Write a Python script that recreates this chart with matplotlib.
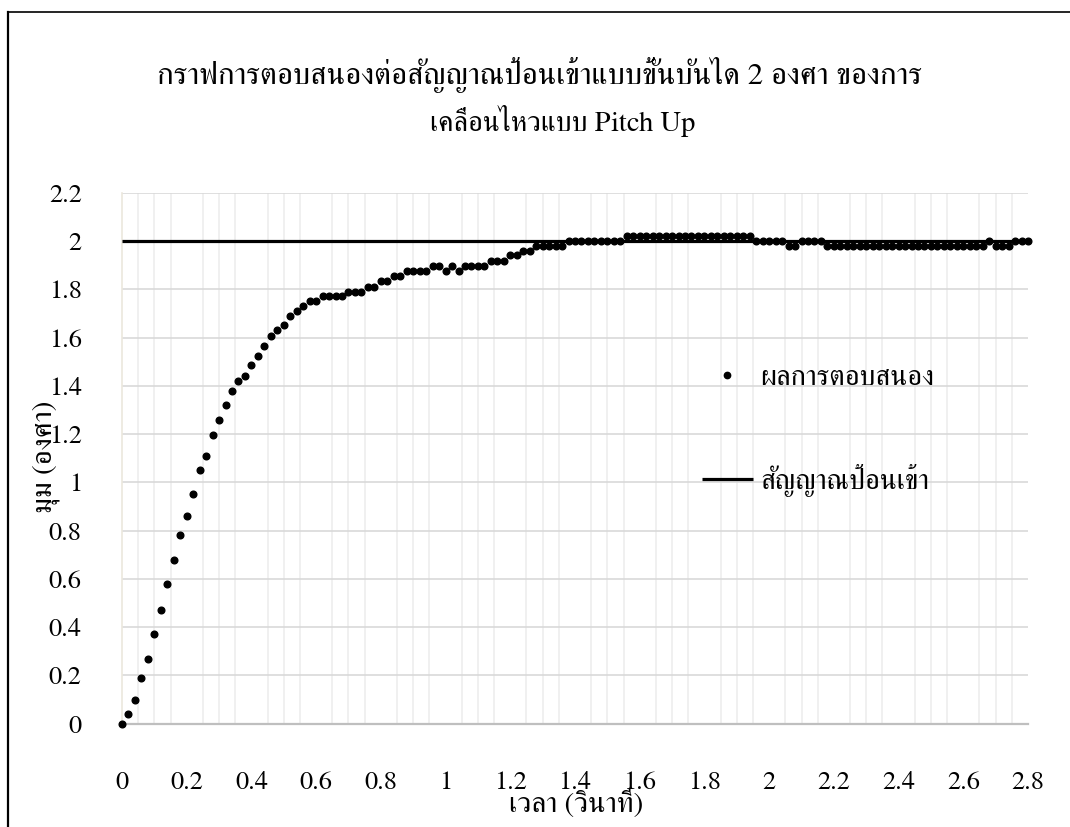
import matplotlib
matplotlib.use("Agg")
import matplotlib.pyplot as plt
from matplotlib.ticker import MultipleLocator, FuncFormatter
from matplotlib.lines import Line2D

plt.rcParams['font.family'] = ['FreeSerif', 'Liberation Serif', 'DejaVu Sans']

# ---------------- data ----------------
title_line1 = "กราฟการตอบสนองต่อสัญญาณป้อนเข้าแบบขั้นบันได 2 องศา ของการ"
title_line2 = "เคลื่อนไหวแบบ Pitch Up"
x_label = "เวลา (วินาที)"
y_label = "มุม (องศา)"
series_response = "ผลการตอบสนอง"
series_input = "สัญญาณป้อนเข้า"

time_s = [
    0.00, 0.02, 0.04, 0.06, 0.08, 0.10, 0.12, 0.14, 0.16, 0.18,
    0.20, 0.22, 0.24, 0.26, 0.28, 0.30, 0.32, 0.34, 0.36, 0.38,
    0.40, 0.42, 0.44, 0.46, 0.48, 0.50, 0.52, 0.54, 0.56, 0.58,
    0.60, 0.62, 0.64, 0.66, 0.68, 0.70, 0.72, 0.74, 0.76, 0.78,
    0.80, 0.82, 0.84, 0.86, 0.88, 0.90, 0.92, 0.94, 0.96, 0.98,
    1.00, 1.02, 1.04, 1.06, 1.08, 1.10, 1.12, 1.14, 1.16, 1.18,
    1.20, 1.22, 1.24, 1.26, 1.28, 1.30, 1.32, 1.34, 1.36, 1.38,
    1.40, 1.42, 1.44, 1.46, 1.48, 1.50, 1.52, 1.54, 1.56, 1.58,
    1.60, 1.62, 1.64, 1.66, 1.68, 1.70, 1.72, 1.74, 1.76, 1.78,
    1.80, 1.82, 1.84, 1.86, 1.88, 1.90, 1.92, 1.94, 1.96, 1.98,
    2.00, 2.02, 2.04, 2.06, 2.08, 2.10, 2.12, 2.14, 2.16, 2.18,
    2.20, 2.22, 2.24, 2.26, 2.28, 2.30, 2.32, 2.34, 2.36, 2.38,
    2.40, 2.42, 2.44, 2.46, 2.48, 2.50, 2.52, 2.54, 2.56, 2.58,
    2.60, 2.62, 2.64, 2.66, 2.68, 2.70, 2.72, 2.74, 2.76, 2.78,
    2.80,
]
response_deg = [
    0.00, 0.04, 0.10, 0.19, 0.27, 0.37, 0.47, 0.58, 0.68, 0.78,
    0.86, 0.95, 1.05, 1.11, 1.195, 1.26, 1.32, 1.38, 1.42, 1.44,
    1.485, 1.525, 1.565, 1.605, 1.63, 1.65, 1.69, 1.71, 1.73, 1.75,
    1.75, 1.77, 1.77, 1.77, 1.77, 1.79, 1.79, 1.79, 1.81, 1.81,
    1.835, 1.835, 1.855, 1.855, 1.875, 1.875, 1.875, 1.875, 1.895, 1.895,
    1.875, 1.895, 1.875, 1.895, 1.895, 1.895, 1.895, 1.915, 1.915, 1.915,
    1.94, 1.94, 1.96, 1.96, 1.98, 1.98, 1.98, 1.98, 1.98, 2.00,
    2.00, 2.00, 2.00, 2.00, 2.00, 2.00, 2.00, 2.00, 2.02, 2.02,
    2.02, 2.02, 2.02, 2.02, 2.02, 2.02, 2.02, 2.02, 2.02, 2.02,
    2.02, 2.02, 2.02, 2.02, 2.02, 2.02, 2.02, 2.02, 2.00, 2.00,
    2.00, 2.00, 2.00, 1.98, 1.98, 2.00, 2.00, 2.00, 2.00, 1.98,
    1.98, 1.98, 1.98, 1.98, 1.98, 1.98, 1.98, 1.98, 1.98, 1.98,
    1.98, 1.98, 1.98, 1.98, 1.98, 1.98, 1.98, 1.98, 1.98, 1.98,
    1.98, 1.98, 1.98, 1.98, 2.00, 1.98, 1.98, 1.98, 2.00, 2.00,
    2.00,
]
input_time = [0.0, 2.8]
input_deg = [2.0, 2.0]

x_range = (0, 2.8)
y_range = (0, 2.2)

# ---------------- layout helpers ----------------
W, H = 1070, 827
def fx(px):
    return px / W
def fy(py):
    return 1 - py / H

fig = plt.figure(figsize=(W / 100, H / 100), dpi=100)
fig.patch.set_facecolor('white')

ax_left, ax_right, ax_top, ax_bottom = 122, 1028, 192.7, 723.7
ax = fig.add_axes([fx(ax_left), fy(ax_bottom), (ax_right - ax_left) / W,
                   (ax_bottom - ax_top) / H])

ax.plot(input_time, input_deg, color='black', lw=2.3, solid_capstyle='butt',
        label=series_input, zorder=3)
ax.plot(time_s, response_deg, linestyle='none', marker='o', ms=4.8,
        color='black', label=series_response, clip_on=False, zorder=4)

ax.set_xlim(*x_range)
ax.set_ylim(*y_range)
ax.xaxis.set_major_locator(MultipleLocator(0.2))
ax.xaxis.set_minor_locator(MultipleLocator(0.05))
ax.yaxis.set_major_locator(MultipleLocator(0.2))
fmt = FuncFormatter(lambda v, p: f"{round(v, 1):g}")
ax.xaxis.set_major_formatter(fmt)
ax.yaxis.set_major_formatter(fmt)

ax.grid(which='minor', axis='x', color='#efefef', lw=1.3, zorder=0)
ax.grid(which='major', axis='y', color='#d9d9d9', lw=1.2, zorder=1)
ax.set_axisbelow(True)

ax.tick_params(which='both', length=0)
ax.tick_params(axis='x', which='major', pad=34, labelsize=19)
ax.tick_params(axis='y', which='major', pad=29, labelsize=19)

for s in ('top', 'right'):
    ax.spines[s].set_visible(False)
ax.spines['left'].set_color('#ebe7dd')
ax.spines['left'].set_linewidth(1.2)
ax.spines['bottom'].set_color('#bfbfbf')
ax.spines['bottom'].set_linewidth(1.6)

# titles & axis labels
fig.text(fx(540), fy(84), title_line1, ha='center', va='baseline', fontsize=22.4)
fig.text(fx(563), fy(131), title_line2, ha='center', va='baseline', fontsize=20.5)
fig.text(fx(576), fy(812), x_label, ha='center', va='baseline', fontsize=21)
fig.text(fx(46), fy(457), y_label, ha='center', va='center', rotation=90, fontsize=21)

# legend
handles, labels = ax.get_legend_handles_labels()
order = [1, 0]
leg = ax.legend([handles[i] for i in order], [labels[i] for i in order],
                loc='upper left', bbox_to_anchor=(fx(702), fy(365)),
                bbox_transform=fig.transFigure, frameon=False, fontsize=20.5,
                handlelength=1.79, handletextpad=0.25, labelspacing=2.56,
                borderpad=0, borderaxespad=0, markerscale=0.95)

# outer frame of the picture
fig.add_artist(Line2D([fx(7.5), fx(7.5)], [fy(12), fy(840)], color='black', lw=1.6,
                      transform=fig.transFigure))
fig.add_artist(Line2D([fx(7.5), fx(1075)], [fy(12), fy(12)], color='black', lw=1.2,
                      transform=fig.transFigure))

fig.savefig('out.png', dpi=100, facecolor='white')
